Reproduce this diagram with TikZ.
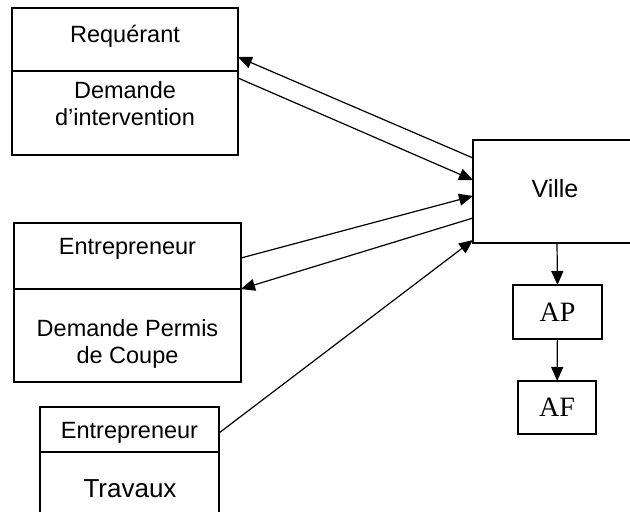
\documentclass[tikz,border=0pt]{standalone}
\usepackage{fontspec}
\setmainfont{Liberation Sans}
\newfontfamily\serifrm{Liberation Serif}
\usetikzlibrary{arrows.meta, positioning}

\begin{document}
\begin{tikzpicture}[x=1pt,y=-1pt,inner sep=0pt,outer sep=0pt,
  box/.style={draw,line width=1.3pt,anchor=north west},
  lbl/.style={anchor=base,align=center,font=\fontsize{23.5}{27}\selectfont},
  flow/.style={line width=1.2pt,-{Triangle[length=14pt,width=12pt]}}]
\useasboundingbox (0,0) rectangle (630,512);
% actors on the left
\node[box,minimum width=226pt,minimum height=63pt] (req) at (12,8) {};
\node[box,minimum width=226pt,minimum height=84pt,anchor=north] (reqdem) at (req.south) {};
\node[box,minimum width=227pt,minimum height=66pt] (ent) at (14,223) {};
\node[box,minimum width=227pt,minimum height=93pt,anchor=north] (entdem) at (ent.south) {};
\node[box,minimum width=179pt,minimum height=45pt] (ent2) at (40,407) {};
\node[box,minimum width=179pt,minimum height=80pt,anchor=north] (ent2trav) at (ent2.south) {};
\node[lbl] (reqt) at (125,42) {Requérant};
\node[lbl] (reqdemt) at (125,125) {Demande\\d’intervention};
\node[lbl] (entt) at (127.5,254) {Entrepreneur};
\node[lbl] (entdemt) at (127.5,363) {Demande Permis\\de Coupe};
\node[lbl] (ent2t) at (129.5,438) {Entrepreneur};
\node[lbl,font=\fontsize{26}{30}\selectfont] (ent2travt) at (130,497) {Travaux};
% city side
\node[box,minimum width=168pt,minimum height=103pt] (ville) at (473,140) {};
\node[lbl,font=\fontsize{25}{30}\selectfont] (villet) at (555,197) {Ville};
\node[box,minimum width=89pt,minimum height=54pt] (ap) at (513,285) {\fontsize{28}{30}\serifrm AP};
\node[box,minimum width=78pt,minimum height=53pt] (af) at (518,381) {\fontsize{28}{30}\serifrm AF};
% links
\draw[flow] ([yshift=-18pt]ville.north west) -- ([yshift=14pt]req.south east);
\draw[flow] ([yshift=-7pt]reqdem.north east) -- ([yshift=-40pt]ville.north west);
\draw[flow] ([yshift=-35pt]ent.north east) -- ([yshift=-56pt]ville.north west);
\draw[flow] ([yshift=-78pt]ville.north west) -- (ent.south east);
\draw[flow] ([yshift=-26pt]ent2.north east) -- ([yshift=-100pt]ville.north west);
\draw[flow] (ville.south) -- (ap.north);
\draw[flow] (ap) -- (af);
\end{tikzpicture}
\end{document}
